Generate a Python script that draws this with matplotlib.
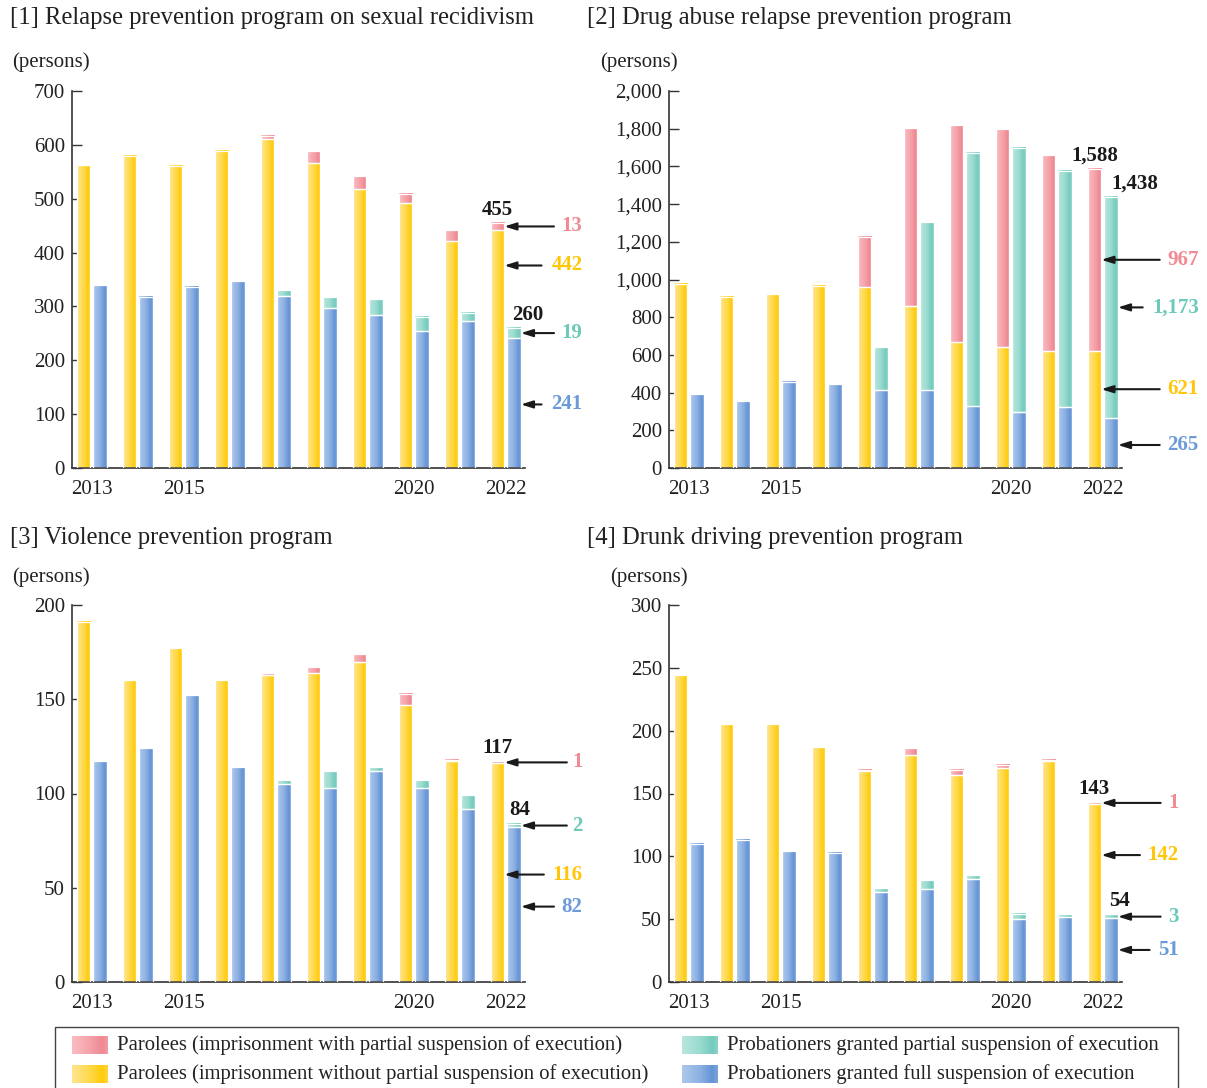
import numpy as np
import matplotlib
matplotlib.use("Agg")
import matplotlib.pyplot as plt
from matplotlib.colors import LinearSegmentedColormap
from matplotlib.patches import Rectangle
from matplotlib.ticker import FuncFormatter

plt.rcParams['font.family'] = ['Liberation Serif', 'DejaVu Serif']

# ---------------- data ----------------
years = [2013, 2014, 2015, 2016, 2017, 2018, 2019, 2020, 2021, 2022]
year_labels = {0: "2013", 2: "2015", 7: "2020", 9: "2022"}

titles = ["[1] Relapse prevention program on sexual recidivism",
          "[2] Drug abuse relapse prevention program",
          "[3] Violence prevention program",
          "[4] Drunk driving prevention program"]
unit_label = "(persons)"

legend_labels = ["Parolees (imprisonment with partial suspension of execution)",
                 "Parolees (imprisonment without partial suspension of execution)",
                 "Probationers granted partial suspension of execution",
                 "Probationers granted full suspension of execution"]

# [1] sexual recidivism
sex_par_without = [562, 580, 561, 589, 611, 567, 518, 492, 422, 442]
sex_par_with    = [0, 0, 0, 0, 6, 21, 24, 17, 20, 13]
sex_prob_full   = [339, 318, 337, 347, 320, 298, 285, 255, 273, 241]
sex_prob_part   = [0, 0, 0, 0, 11, 20, 28, 26, 15, 19]

# [2] drug abuse
drug_par_without = [978, 909, 923, 966, 959, 862, 670, 641, 622, 621]
drug_par_with    = [0, 0, 0, 0, 267, 944, 1150, 1155, 1036, 967]
drug_prob_full   = [391, 354, 458, 444, 416, 416, 328, 296, 322, 265]
drug_prob_part   = [0, 0, 0, 0, 224, 890, 1344, 1404, 1252, 1173]

# [3] violence
viol_par_without = [191, 160, 177, 160, 163, 164, 170, 147, 117, 116]
viol_par_with    = [0, 0, 0, 0, 1, 3, 4, 6, 1, 1]
viol_prob_full   = [117, 124, 152, 114, 105, 103, 112, 103, 92, 82]
viol_prob_part   = [0, 0, 0, 0, 2, 9, 2, 4, 7, 2]

# [4] drunk driving
drunk_par_without = [244, 205, 205, 187, 168, 181, 165, 170, 176, 142]
drunk_par_with    = [0, 0, 0, 0, 1, 5, 4, 3, 1, 1]
drunk_prob_full   = [110, 113, 104, 103, 72, 74, 82, 50, 52, 51]
drunk_prob_part   = [0, 0, 0, 0, 3, 7, 3, 4, 2, 3]

# ---------------- style ----------------
W, H = 1207, 1088
fig = plt.figure(figsize=(W / 100, H / 100), dpi=100)

def rect(l, r, t, b):
    return [l / W, 1 - b / H, (r - l) / W, (b - t) / H]

C_PINK, C_YEL, C_TEAL, C_BLUE = '#F08A93', '#FFC60A', '#6CCABB', '#6A9AD8'
cm_yel = LinearSegmentedColormap.from_list('y', [(0, '#FFE591'), (0.5, '#FFD948'), (0.85, '#FFCB0C'), (1, '#FFD53A')])
cm_pink = LinearSegmentedColormap.from_list('p', [(0, '#FABCC1'), (0.5, '#F5A2A9'), (0.85, '#EF8891'), (1, '#F39CA3')])
cm_teal = LinearSegmentedColormap.from_list('t', [(0, '#B8E6DD'), (0.5, '#9ADBCF'), (0.85, '#74CBBE'), (1, '#8AD3C7')])
cm_blue = LinearSegmentedColormap.from_list('b', [(0, '#AEC8EC'), (0.5, '#8DB1E3'), (0.85, '#6494D5'), (1, '#7AA3DB')])
GRAD = np.linspace(0, 1, 64).reshape(1, -1)

BW = 0.30
OFF = 0.18
XLIM = (-0.43, 9.42)
FS_TICK = 15
FS_TITLE = 17.7
FS_ANN = 15

def grad_bars(ax, x, heights, bottoms, cmap):
    bars = ax.bar(x, heights, width=BW, bottom=bottoms, facecolor='none',
                  edgecolor='white', linewidth=0.9, zorder=3)
    for p in bars.patches:
        x0, y0, w, h = p.get_x(), p.get_y(), p.get_width(), p.get_height()
        if h <= 0:
            p.set_visible(False)
            continue
        ax.imshow(GRAD, extent=[x0, x0 + w, y0, y0 + h], aspect='auto',
                  cmap=cmap, zorder=2, interpolation='bilinear', origin='lower')

def arrow(ax, tail_x, head_x, y):
    ax.annotate('', xy=(head_x, y), xytext=(tail_x, y),
                arrowprops=dict(arrowstyle='-|>,head_length=0.7,head_width=0.22',
                                color='#1a1a1a', lw=1.5, shrinkA=0, shrinkB=0),
                annotation_clip=False)

def panel(rect_px, ymax, ystep, par_without, par_with, prob_full, prob_part, fmt_comma=False):
    ax = fig.add_axes(rect(*rect_px))
    x = np.arange(len(years))
    grad_bars(ax, x - OFF, par_without, 0, cm_yel)
    grad_bars(ax, x - OFF, par_with, par_without, cm_pink)
    grad_bars(ax, x + OFF, prob_full, 0, cm_blue)
    grad_bars(ax, x + OFF, prob_part, prob_full, cm_teal)
    ax.set_xlim(*XLIM)
    ax.set_ylim(0, ymax)
    ax.set_yticks(np.arange(0, ymax + 1, ystep))
    if fmt_comma:
        ax.yaxis.set_major_formatter(FuncFormatter(lambda v, p: f"{int(v):,}"))
    ax.set_xticks(list(year_labels.keys()))
    ax.set_xticklabels(list(year_labels.values()))
    ax.tick_params(axis='x', length=0, pad=9, labelsize=FS_TICK, labelcolor='#222222')
    ax.tick_params(axis='y', direction='in', length=7, width=1, pad=5, labelsize=FS_TICK,
                   color='#333333', labelcolor='#222222')
    for s in ['top', 'right']:
        ax.spines[s].set_visible(False)
    for s in ['left', 'bottom']:
        ax.spines[s].set_color('#333333')
        ax.spines[s].set_linewidth(1.2)
    return ax

# px positions of the four plot areas: left, right, top, bottom
ax1 = panel((72, 525, 91, 468), 700, 100, sex_par_without, sex_par_with, sex_prob_full, sex_prob_part)
ax2 = panel((669, 1122, 91, 468), 2000, 200, drug_par_without, drug_par_with, drug_prob_full, drug_prob_part, True)
ax3 = panel((72, 525, 605, 982), 200, 50, viol_par_without, viol_par_with, viol_prob_full, viol_prob_part)
ax4 = panel((669, 1122, 605, 982), 300, 50, drunk_par_without, drunk_par_with, drunk_prob_full, drunk_prob_part)

# titles and units
for (tx, ty), t in zip([(10, 18), (587, 18), (10, 538), (587, 538)], titles):
    fig.text(tx / W, 1 - ty / H, t, fontsize=FS_TITLE, ha='left', va='center', color='#222222')
for (tx, ty) in [(12, 62), (600, 62), (12, 577), (610, 577)]:
    fig.text(tx / W, 1 - ty / H, unit_label, fontsize=FS_TICK, ha='left', va='center', color='#222222')

# totals for 2022
def totals(ax, x_par, x_prob, pw, pp, bf, bp):
    tot_par = pw[9] + pp[9]
    tot_prob = bf[9] + bp[9]
    ax.annotate(f"{tot_par:,}", xy=(x_par, tot_par), xytext=(0, 6), textcoords='offset points',
                ha='center', va='baseline', fontsize=FS_ANN, fontweight='bold', color='#1a1a1a',
                annotation_clip=False)
    ax.annotate(f"{tot_prob:,}", xy=(x_prob, tot_prob), xytext=(0, 6), textcoords='offset points',
                ha='center', va='baseline', fontsize=FS_ANN, fontweight='bold', color='#1a1a1a',
                annotation_clip=False)

def label(ax, x_right, y, val, color, tail_x, head_x):
    ax.text(x_right, y, f"{val:,}", ha='right', va='center', fontsize=FS_ANN, fontweight='bold',
            color=color, clip_on=False)
    arrow(ax, tail_x, head_x, y)

YR = 9 - OFF + BW / 2   # right edge of parolee bar
BR = 9 + OFF + BW / 2   # right edge of probationer bar

# [1]
totals(ax1, 9 - OFF, 9.48, sex_par_without, sex_par_with, sex_prob_full, sex_prob_part)
label(ax1, 10.67, sex_par_without[9] + sex_par_with[9] / 2, sex_par_with[9], C_PINK, 10.05, YR)
label(ax1, 10.67, 376, sex_par_without[9], C_YEL, 9.78, YR)
label(ax1, 10.67, sex_prob_full[9] + sex_prob_part[9] / 2, sex_prob_part[9], C_TEAL, 10.05, BR)
label(ax1, 10.67, 118, sex_prob_full[9], C_BLUE, 9.78, BR)

# [2]
totals(ax2, 9 - OFF, 9.70, drug_par_without, drug_par_with, drug_prob_full, drug_prob_part)
label(ax2, 11.09, drug_par_without[9] + drug_par_with[9] / 2, drug_par_with[9], C_PINK, 10.24, YR)
label(ax2, 11.09, 852, drug_prob_part[9], C_TEAL, 9.87, BR)
label(ax2, 11.09, 418, drug_par_without[9], C_YEL, 10.24, YR)
label(ax2, 11.09, 122, drug_prob_full[9], C_BLUE, 10.24, BR)

# [3]
totals(ax3, 9 - OFF, 9.30, viol_par_without, viol_par_with, viol_prob_full, viol_prob_part)
label(ax3, 10.67, 116.5, viol_par_with[9], C_PINK, 10.33, YR)
label(ax3, 10.67, 83, viol_prob_part[9], C_TEAL, 10.33, BR)
label(ax3, 10.67, 57, viol_par_without[9], C_YEL, 9.83, YR)
label(ax3, 10.67, 40, viol_prob_full[9], C_BLUE, 10.05, BR)

# [4]
totals(ax4, 9 - OFF, 9.36, drunk_par_without, drunk_par_with, drunk_prob_full, drunk_prob_part)
label(ax4, 10.65, 142.5, drunk_par_with[9], C_PINK, 10.26, YR)
label(ax4, 10.65, 101, drunk_par_without[9], C_YEL, 9.81, YR)
label(ax4, 10.65, 52, drunk_prob_part[9], C_TEAL, 10.26, BR)
label(ax4, 10.65, 25.5, drunk_prob_full[9], C_BLUE, 10.02, BR)

# ---------------- legend ----------------
lax = fig.add_axes([0, 0, 1, 1], zorder=-1)
lax.set_xlim(0, W)
lax.set_ylim(H, 0)
lax.axis('off')
lax.add_patch(Rectangle((55, 1027), 1178 - 55, 80, facecolor='none', edgecolor='#444444', lw=1.0))
leg_pos = [(72, 1045), (72, 1074), (682, 1045), (682, 1074)]
leg_cmaps = [cm_pink, cm_yel, cm_teal, cm_blue]
for (px, py), cm, txt in zip(leg_pos, leg_cmaps, legend_labels):
    lax.imshow(GRAD, extent=[px, px + 36, py + 9, py - 9], aspect='auto', cmap=cm,
               interpolation='bilinear')
    lax.text(px + 45, py, txt, ha='left', va='center', fontsize=14.9, color='#222222')
lax.set_xlim(0, W)
lax.set_ylim(H, 0)

fig.savefig("out.png", dpi=100)
